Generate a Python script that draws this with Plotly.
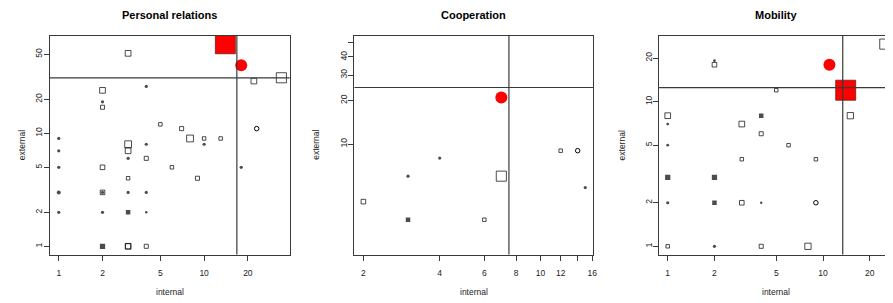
import plotly.graph_objects as go

# The page body adds an 8px margin, so the figure is drawn 8px smaller
# and all pixel positions below are measured from the page origin.
OFF = 8
W, H = 893 - OFF, 303 - OFF

titles = ["Personal relations", "Cooperation", "Mobility"]
x_label = "internal"
y_label = "external"

# ---- Panel 1: Personal relations ----
p1_sq_x = [3, 2, 2, 5, 7, 8, 10, 13, 3, 3, 4, 2, 6, 3, 9, 22, 34, 3, 3, 4, 2]
p1_sq_y = [51, 24, 17, 12, 11, 9, 9, 9, 8, 7, 6, 5, 5, 4, 4, 29, 31, 1, 1, 1, 3]
p1_sq_n = [3, 3, 1.5, 1, 1.5, 4, 1, 1, 4, 3, 1.5, 2, 1, 1, 1.5, 3, 7, 3, 2.5, 1.5, 2]
p1_dot_x = [2, 4, 10, 18, 1, 1, 1, 1, 3, 4, 3, 4, 2, 4, 2, 1]
p1_dot_y = [19, 26, 8, 5, 9, 7, 5, 2, 6, 8, 3, 3, 2, 2, 3, 3]
p1_dot_n = [2, 2, 2, 2, 2, 2, 2, 2, 2, 2, 2, 2, 2, 1, 2, 3]
p1_fsq_x = [3, 2]
p1_fsq_y = [2, 1]
p1_fsq_n = [2, 3]
p1_circ_x = [23]
p1_circ_y = [11]
p1_red_circ = ([18], [40])
p1_red_sq = ([14], [62])
p1_hline, p1_vline = 30.9, 16.8

# ---- Panel 2: Cooperation ----
p2_sq_x = [2, 6, 7, 12]
p2_sq_y = [4, 3, 6, 9]
p2_sq_n = [2, 1, 7, 1]
p2_dot_x = [4, 3, 15]
p2_dot_y = [8, 6, 5]
p2_dot_n = [2, 2, 2]
p2_fsq_x = [3]
p2_fsq_y = [3]
p2_fsq_n = [2]
p2_circ_x = [14]
p2_circ_y = [9]
p2_red_circ = ([7], [21])
p2_red_sq = ([], [])
p2_hline, p2_vline = 24.6, 7.5

# ---- Panel 3: Mobility ----
p3_sq_x = [2, 5, 1, 3, 4, 6, 3, 9, 3, 1, 4, 8, 15, 25]
p3_sq_y = [18, 12, 8, 7, 6, 5, 4, 4, 2, 1, 1, 1, 8, 25]
p3_sq_n = [2, 1, 3, 3, 1.5, 1, 1, 1, 2, 1, 1.5, 3.5, 3.5, 7]
p3_dot_x = [2, 1, 1, 1, 4, 2]
p3_dot_y = [19.2, 7, 5, 2, 2, 1]
p3_dot_n = [1.5, 1.5, 1.5, 2, 1, 2]
p3_fsq_x = [4, 1, 2, 2]
p3_fsq_y = [8, 3, 3, 2]
p3_fsq_n = [2, 3, 3, 2]
p3_circ_x = [9]
p3_circ_y = [2]
p3_red_circ = ([11], [18])
p3_red_sq = ([14], [12])
p3_hline, p3_vline = 12.5, 13.4

# tick labels
p1_xticks = [1, 2, 5, 10, 20]
p1_yticks = [1, 2, 5, 10, 20, 50]
p2_xticks = [2, 4, 6, 8, 10, 12, 14, 16]
p2_xtext = ["2", "4", "6", "8", "10", "12", "", "16"]
p2_yticks = [10, 20, 30, 40, 50]
p2_ytext = ["10", "20", "30", "40", ""]
p3_xticks = [1, 2, 5, 10, 20]
p3_yticks = [1, 2, 5, 10, 20]

panels = [
    dict(sq=(p1_sq_x, p1_sq_y, p1_sq_n), dot=(p1_dot_x, p1_dot_y, p1_dot_n),
         fsq=(p1_fsq_x, p1_fsq_y, p1_fsq_n), circ=(p1_circ_x, p1_circ_y),
         rc=p1_red_circ, rs=p1_red_sq, h=p1_hline, v=p1_vline,
         xt=(p1_xticks, [str(t) for t in p1_xticks]),
         yt=(p1_yticks, [str(t) for t in p1_yticks]),
         px=(50, 291), xr=(-0.0616, 1.589), yr=(-0.0726, 1.861), ylab_x=22),
    dict(sq=(p2_sq_x, p2_sq_y, p2_sq_n), dot=(p2_dot_x, p2_dot_y, p2_dot_n),
         fsq=(p2_fsq_x, p2_fsq_y, p2_fsq_n), circ=(p2_circ_x, p2_circ_y),
         rc=p2_red_circ, rs=p2_red_sq, h=p2_hline, v=p2_vline,
         xt=(p2_xticks, p2_xtext), yt=(p2_yticks, p2_ytext),
         px=(356, 596), xr=(0.2657, 1.208), yr=(0.2366, 1.747), ylab_x=318),
    dict(sq=(p3_sq_x, p3_sq_y, p3_sq_n), dot=(p3_dot_x, p3_dot_y, p3_dot_n),
         fsq=(p3_fsq_x, p3_fsq_y, p3_fsq_n), circ=(p3_circ_x, p3_circ_y),
         rc=p3_red_circ, rs=p3_red_sq, h=p3_hline, v=p3_vline,
         xt=(p3_xticks, [str(t) for t in p3_xticks]),
         yt=(p3_yticks, [str(t) for t in p3_yticks]),
         px=(662, 893), xr=(-0.0558, 1.425), yr=(-0.0567, 1.454), ylab_x=625),
]

FONT = "Liberation Sans, Arial, Helvetica, sans-serif"
LINE = "#3a3a3a"
top_px, bot_px = 36, 254.5


def fx(px):
    return (px - OFF) / W


def fy(py):
    return (H - (py - OFF)) / H


ydom = [fy(bot_px), fy(top_px)]

fig = go.Figure()
annotations = []
shapes = []

for i, p in enumerate(panels, start=1):
    xa = "x" if i == 1 else f"x{i}"
    ya = "y" if i == 1 else f"y{i}"
    sx, sy, sn = p["sq"]
    fig.add_trace(go.Scatter(x=sx, y=sy, mode="markers", xaxis=xa, yaxis=ya,
        marker=dict(symbol="square-open", size=[2.4 + 1.1 * n for n in sn],
                    color="black", line=dict(width=1, color="black")),
        showlegend=False, hoverinfo="x+y"))
    fqx, fqy, fqn = p["fsq"]
    fig.add_trace(go.Scatter(x=fqx, y=fqy, mode="markers", xaxis=xa, yaxis=ya,
        marker=dict(symbol="square", size=[3 + 0.75 * n for n in fqn],
                    color="black", line=dict(width=0)),
        showlegend=False, hoverinfo="x+y"))
    dx, dy, dn = p["dot"]
    fig.add_trace(go.Scatter(x=dx, y=dy, mode="markers", xaxis=xa, yaxis=ya,
        marker=dict(symbol="circle", size=[1.6 + 0.8 * n for n in dn],
                    color="black", line=dict(width=0)),
        showlegend=False, hoverinfo="x+y"))
    cx, cy = p["circ"]
    fig.add_trace(go.Scatter(x=cx, y=cy, mode="markers", xaxis=xa, yaxis=ya,
        marker=dict(symbol="circle-open", size=4.5, color="black",
                    line=dict(width=1, color="black")),
        showlegend=False, hoverinfo="x+y"))
    rsx, rsy = p["rs"]
    if rsx:
        fig.add_trace(go.Scatter(x=rsx, y=rsy, mode="markers", xaxis=xa, yaxis=ya,
            marker=dict(symbol="square", size=20, color="#ff0000",
                        line=dict(width=0.8, color="#6a2020")),
            showlegend=False, hoverinfo="x+y"))
    rcx, rcy = p["rc"]
    fig.add_trace(go.Scatter(x=rcx, y=rcy, mode="markers", xaxis=xa, yaxis=ya,
        marker=dict(symbol="circle", size=12, color="#ff0000", line=dict(width=0)),
        showlegend=False, hoverinfo="x+y"))

    x0, x1 = p["px"]
    xdom = [fx(x0), min(fx(x1), 1.0)]
    axis_common = dict(type="log", showgrid=False, zeroline=False,
                       showline=True, linecolor=LINE, linewidth=1,
                       ticks="outside", ticklen=5, tickwidth=1, tickcolor=LINE,
                       tickfont=dict(family=FONT, size=8.5, color="#222"))
    fig.update_layout(**{
        ("xaxis" if i == 1 else f"xaxis{i}"): dict(
            axis_common, domain=xdom, anchor=ya, range=list(p["xr"]),
            mirror=True, tickvals=p["xt"][0], ticktext=p["xt"][1],
            tickangle=0, ticklabelstandoff=5),
        ("yaxis" if i == 1 else f"yaxis{i}"): dict(
            axis_common, domain=ydom, anchor=xa, range=list(p["yr"]),
            mirror=(i != 3), tickvals=p["yt"][0], ticktext=p["yt"][1],
            tickangle=-90, ticklabelstandoff=-2),
    })

    # threshold lines (shape coordinates are data values on these log axes)
    shapes.append(dict(type="line", xref=f"{xa} domain", yref=ya, x0=0, x1=1,
                       y0=p["h"], y1=p["h"],
                       line=dict(color=LINE, width=1.2), layer="above"))
    shapes.append(dict(type="line", xref=xa, yref=f"{ya} domain",
                       x0=p["v"], x1=p["v"], y0=0, y1=1,
                       line=dict(color=LINE, width=1.2), layer="above"))

    cxp = fx((x0 + (x1 if i != 3 else 897)) / 2)
    annotations.append(dict(text=f"<b>{titles[i-1]}</b>", xref="paper", yref="paper",
                            x=cxp, y=fy(15), showarrow=False,
                            xanchor="center", yanchor="middle",
                            font=dict(family=FONT, size=11, color="black")))
    annotations.append(dict(text=x_label, xref="paper", yref="paper",
                            x=cxp, y=fy(292), showarrow=False,
                            xanchor="center", yanchor="middle",
                            font=dict(family=FONT, size=8.5, color="#222")))
    annotations.append(dict(text=y_label, xref="paper", yref="paper",
                            x=fx(p["ylab_x"]), y=fy((top_px + bot_px) / 2),
                            showarrow=False, textangle=-90,
                            xanchor="center", yanchor="middle",
                            font=dict(family=FONT, size=8.5, color="#222")))

fig.update_layout(width=W, height=H, margin=dict(l=0, r=0, t=0, b=0),
                  paper_bgcolor="white", plot_bgcolor="white",
                  shapes=shapes, annotations=annotations, showlegend=False)

fig.write_html("out.html")
